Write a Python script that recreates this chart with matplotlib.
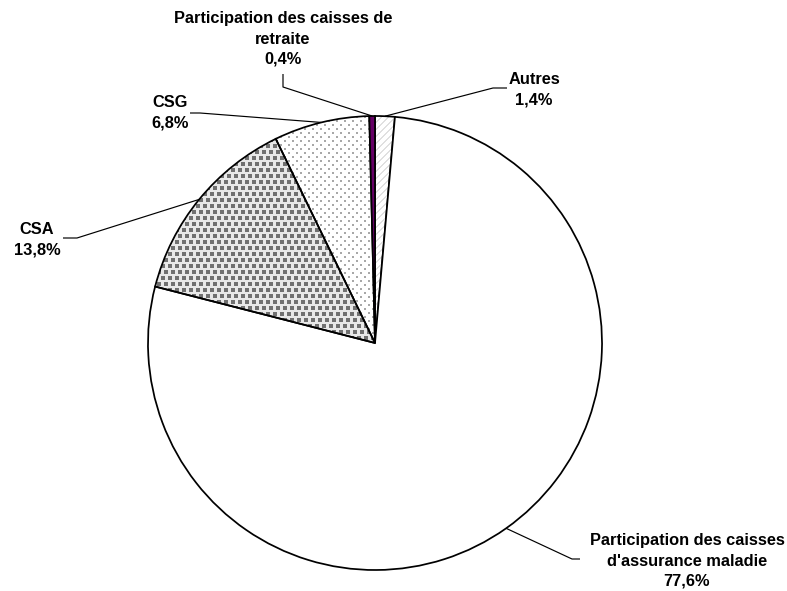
import numpy as np
import matplotlib
matplotlib.use("Agg")
import matplotlib.pyplot as plt

# ---- data ----
labels = ["Autres", "Participation des caisses\nd'assurance maladie",
          "CSA", "CSG", "Participation des caisses de\nretraite"]
values = [1.4, 77.6, 13.8, 6.8, 0.4]
value_texts = ["1,4%", "77,6%", "13,8%", "6,8%", "0,4%"]

W, H = 787, 591
plt.rcParams['font.family'] = ['Liberation Sans', 'DejaVu Sans']

fig = plt.figure(figsize=(W / 100, H / 100), dpi=100)
ax = fig.add_axes([0, 0, 1, 1])

cx, cy, R = 375, H - 343, 227

face = ['none', 'white', 'none', 'none', '#660066']
wedges, _ = ax.pie(values, startangle=90, counterclock=False, radius=R,
                   center=(cx, cy), colors=face,
                   wedgeprops=dict(edgecolor='black', linewidth=1.25))
ax.set_xlim(0, W)
ax.set_ylim(0, H)
ax.set_aspect('equal')
ax.axis('off')

# ---- textures ----
rr, cc = np.mgrid[0:H, 0:W]

# CSA : grey squares on light grey
j = rr // 6
shift = (j % 2) * 3
sq = ((rr % 6) < 4) & (((cc - shift) % 7) < 4)
csa = np.where(sq, 0.44, 0.91)
csa_img = np.dstack([csa, csa, csa])

# CSG : sparse grey dots on white
j2 = rr // 4
shift2 = (j2 % 2) * 4
dot = ((rr % 4) < 2) & (((cc - shift2) % 8) < 2)
csg = np.where(dot, 0.66, 1.0)
csg_img = np.dstack([csg, csg, csg])

# Autres : light diagonal stripes
stripe = ((rr + cc) % 7) < 2
aut = np.where(stripe, 0.88, 1.0)
aut_img = np.dstack([aut, aut, aut])

for img, w in [(csa_img, wedges[2]), (csg_img, wedges[3]), (aut_img, wedges[0])]:
    im = ax.imshow(img, extent=(0, W, 0, H), origin='upper',
                   interpolation='nearest', zorder=0.5)
    im.set_clip_path(w)
for w in wedges:
    w.set_zorder(1)

# ---- labels with leader lines ----
# (label centre x, y), (elbow x,y), (end x,y) in pixel coords from top
layout = [
    ((534, 90), (493, 88), (507, 88)),
    ((687, 561), (572, 559), (580, 559)),
    ((37, 240), (77, 238), (63, 238)),
    ((170, 113), (200, 113), (190, 113)),
    ((283, 39), (283, 87), (283, 74)),
]
fs = 11.8
for w, lab, vt, (tpos, elbow, end) in zip(wedges, labels, value_texts, layout):
    mid = np.deg2rad((w.theta1 + w.theta2) / 2)
    ex, ey = cx + R * np.cos(mid), cy + R * np.sin(mid)
    xs = [ex, elbow[0], end[0]]
    ys = [ey, H - elbow[1], H - end[1]]
    ax.plot(xs, ys, color='black', lw=0.85, zorder=2, solid_capstyle='butt')
    ax.text(tpos[0], H - tpos[1], lab + "\n" + vt, ha='center', va='center',
            fontsize=fs, fontweight='bold', linespacing=1.42, zorder=3)

fig.savefig("out.png", dpi=100)
